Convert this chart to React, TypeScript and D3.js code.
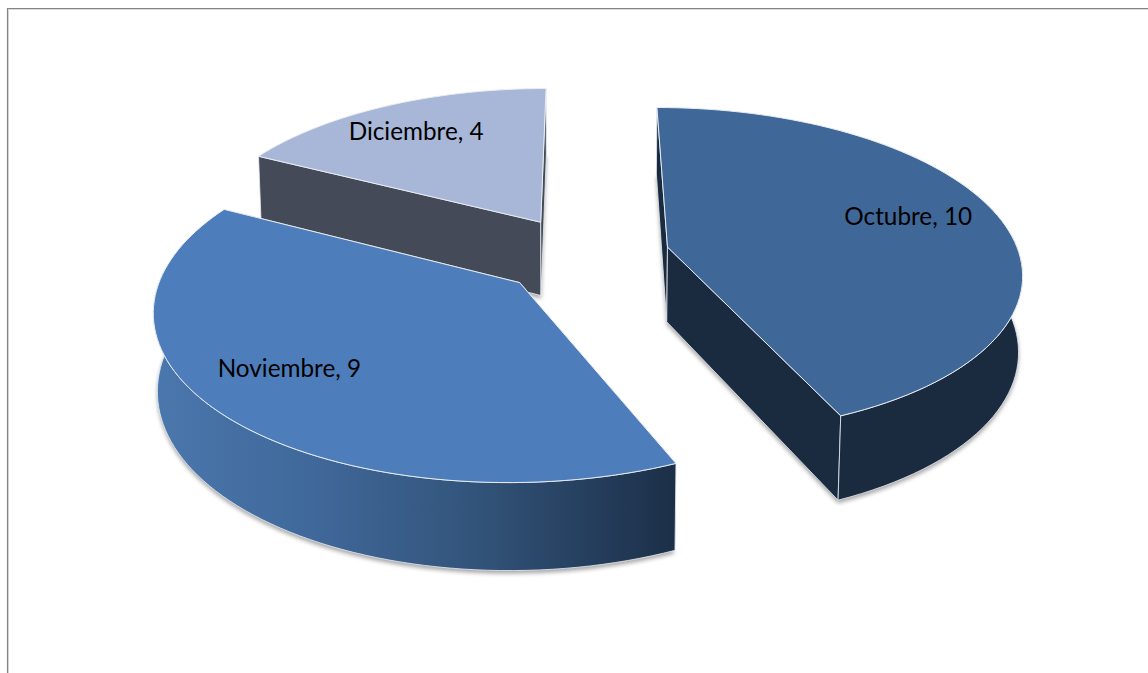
import React from "react";
import * as d3 from "d3";

const categories = ["Octubre", "Noviembre", "Diciembre"];
const values = [10, 9, 4];
const topColors = ["#3f6899", "#4d7ebb", "#a8b7d7"];
const wallColors = ["#1a2b40", "#1c2f48", "#454a58"];
const labelRadii = [0.69, 0.8, 0.73];
const labelNudgeX = [11, 5, -9];
const labelNudgeY = [-10, -16, -4];
const drawOrder = [2, 0, 1];

const W = 1148, H = 673;
const x0 = 584, y0 = 255;
const D = 6.1, F = 2147, tilt = (27.4 * Math.PI) / 180, depth = 0.243, explode = 0.244;
const sinT = Math.sin(tilt), cosT = Math.cos(tilt);

function project(X: number, Y: number, Z: number): [number, number] {
  const z = D + Y * cosT - 0.5 * Z * sinT;
  return [x0 + (F * X) / z, y0 - (F * (Y * sinT + Z * cosT)) / z];
}

const line = d3.line();
const pieLayout = d3.pie<number>().sort(null)(values);

export default function App() {
  const slices = pieLayout.map((a, i) => {
    const mid = (a.startAngle + a.endAngle) / 2;
    const ox = explode * Math.sin(mid), oy = explode * Math.cos(mid);
    const rim = (t: number, z: number) => project(ox + Math.sin(t), oy + Math.cos(t), z);
    const n = 80;
    const angles = d3.range(n + 1).map((k) => a.startAngle + ((a.endAngle - a.startAngle) * k) / n);
    const apex = project(ox, oy, 0), apexB = project(ox, oy, -depth);
    const top = line([apex, ...angles.map((t) => rim(t, 0))])! + "Z";
    const front = angles.filter((t) => Math.cos(t) < 0.1);
    const outer = front.length
      ? line([...front.map((t) => rim(t, 0)), ...[...front].reverse().map((t) => rim(t, -depth))])! + "Z"
      : "";
    const wallS = line([apex, rim(a.startAngle, 0), rim(a.startAngle, -depth), apexB])! + "Z";
    const wallE = line([apex, rim(a.endAngle, 0), rim(a.endAngle, -depth), apexB])! + "Z";
    const p = project(ox + labelRadii[i] * Math.sin(mid), oy + labelRadii[i] * Math.cos(mid), 0);
    const lab = [p[0] + labelNudgeX[i], p[1] + labelNudgeY[i]];
    const bottomShadow = line([apexB, ...angles.map((t) => rim(t, -depth))])! + "Z";
    return { i, top, outer, wallS, wallE, lab, bottomShadow, name: categories[i], value: values[i] };
  });

  return (
    <svg width={W} height={H} style={{ position: "absolute", left: 0, top: 0, background: "#fff" }}>
      <defs>
        <linearGradient id="novWall" gradientUnits="userSpaceOnUse" x1={155} x2={675} y1={0} y2={0}>
          <stop offset="0" stopColor="#4a77ad" />
          <stop offset="0.3" stopColor="#40689a" />
          <stop offset="0.6" stopColor="#33557c" />
          <stop offset="1" stopColor="#1c2f48" />
        </linearGradient>
        <filter id="soft" x="-10%" y="-10%" width="120%" height="120%">
          <feGaussianBlur stdDeviation="2" />
        </filter>
      </defs>
      <path d={`M8.5 ${H}V9.5H${W}`} fill="none" stroke="#dcdcdc" strokeWidth={1} />
      <path d={`M7.5 ${H}V8.5H${W}`} fill="none" stroke="#858585" strokeWidth={1.2} />
      {drawOrder.map((idx) => {
        const s = slices[idx];
        return (
          <g key={s.name}>
            <path d={s.bottomShadow} fill="#000" opacity={0.35} transform="translate(0,3)" filter="url(#soft)" />
            <path d={s.wallS} fill={wallColors[idx]} stroke="#e8edf4" strokeWidth={0.8} />
            <path d={s.wallE} fill={wallColors[idx]} stroke="#e8edf4" strokeWidth={0.8} />
            {s.outer && (
              <path
                d={s.outer}
                fill={idx === 1 ? "url(#novWall)" : wallColors[idx]}
                stroke="#e8edf4"
                strokeWidth={0.8}
              />
            )}
            <path d={s.top} fill={topColors[idx]} stroke="#e8edf4" strokeWidth={1} />
          </g>
        );
      })}
      {slices.map((s) => (
        <text
          key={s.name}
          x={s.lab[0]}
          y={s.lab[1]}
          textAnchor="middle"
          dominantBaseline="central"
          fontFamily="Lato, 'Open Sans', sans-serif"
          fontSize={24.3}
          fill="#000"
        >
          {`${s.name}, ${s.value}`}
        </text>
      ))}
    </svg>
  );
}
